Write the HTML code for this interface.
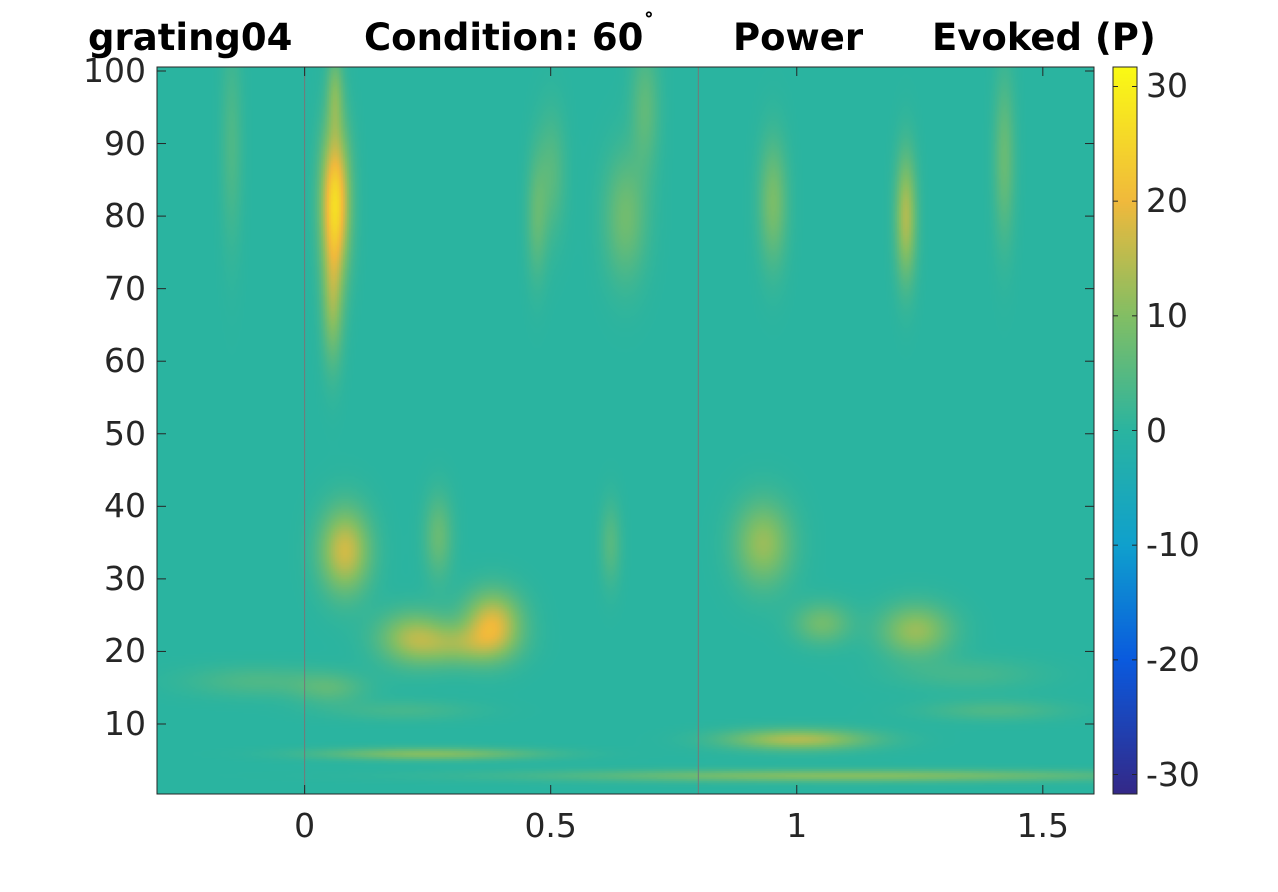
<!DOCTYPE html>
<html><head><meta charset="utf-8">
<style>
body{margin:0;background:#fff;width:1278px;height:892px;overflow:hidden;position:relative;font-family:"DejaVu Sans",sans-serif;}
#title{position:absolute;left:0;top:16px;width:1278px;font-weight:bold;font-size:37px;color:#000;white-space:pre;}
canvas{position:absolute;}
.t{position:absolute;font-size:33px;color:#262626;font-family:"DejaVu Sans",sans-serif;}
</style></head><body>
<div id="title"><span style="position:absolute;left:88px">grating04</span><span style="position:absolute;left:364px">Condition: 60<sup style="font-size:22px;position:relative;top:-6px">˚</sup></span><span style="position:absolute;left:733px">Power</span><span style="position:absolute;left:932px">Evoked (P)</span></div>
<canvas id="hm" width="937" height="727" style="left:157px;top:67px"></canvas>
<canvas id="cb" width="24" height="727" style="left:1113px;top:67px"></canvas>
<svg id="ax" width="1278" height="892" style="position:absolute;left:0;top:0"></svg>
<div id="labels"></div>
<script>
// blob data: time (s), freq (Hz), amplitude, time-width, freq-width
const blobT =  [0.06,0.055,0.08,0.22,0.38,0.32,0.93,1.05,1.24,1.00,0.25,1.10,1.22,0.65,0.95,0.47,0.27,1.42,0.69,0.50,-0.1,0.05,0.62,1.40,0.06,-0.15,0.2,1.35];
const blobF =  [82,  68,   34,  22,  24,  21,  35,  24,  23,  8,   6,   3,   80,  80,  82,  80,  36,  88,  95,  86,  16, 15, 35, 12, 97, 90, 12, 17];
const blobA =  [26,  10,   17,  13,  18,  9,   12,  8,   12,  14,  10,  10,  14,  8,   9,   6,   7,   7,   6,   5,   4,  5,  5,  4,  8, 4, 3, 3];
const blobST = [0.02,0.015,0.035,0.05,0.04,0.06,0.04,0.04,0.05,0.1,0.15,0.4,0.015,0.03,0.02,0.015,0.02,0.015,0.02,0.02,0.1,0.05,0.015,0.1,0.012,0.015,0.1,0.1];
const blobSF = [7,   6,    4,   2.5, 3,   2,   4,   2,   2.5, 1,   0.6, 0.6, 6,   6,   6,   6,   4,   8,   6,   6,   1.5,1.5,4,  1,  4, 10, 1, 1.5];
const xTicks = [0,0.5,1,1.5];
const xTickLabels = ["0","0.5","1","1.5"];
const yTicks = [10,20,30,40,50,60,70,80,90,100];
const cTicks = [30,20,10,0,-10,-20,-30];
const vLines = [0,0.8];

const L=157,T=67,W=937,H=727;
const t0=-0.3,t1=1.604,f0=0.35,f1=100.55,cmax=31.7;
const xs=t=>L+(t-t0)/(t1-t0)*W;
const ys=f=>T+(f1-f)/(f1-f0)*H;
const cy=v=>T+(cmax-v)/(2*cmax)*H;
const stops=[[-31.7,[52,40,135]],[-20,[10,90,222]],[-10,[15,160,205]],[0,[42,180,160]],[10,[130,190,100]],[20,[240,185,60]],[31.7,[250,250,20]]];
function col(v){
 v=Math.max(-31.7,Math.min(31.7,v));
 for(let i=0;i<stops.length-1;i++){const[a,ca]=stops[i],[b,cb]=stops[i+1];
  if(v<=b){const k=(v-a)/(b-a);return ca.map((c,j)=>Math.round(c+(cb[j]-c)*k));}}
 return stops[stops.length-1][1];
}
const hm=document.getElementById('hm').getContext('2d');
const img=hm.createImageData(W,H);
for(let py=0;py<H;py+=2){const f=f1-(py/H)*(f1-f0);
 for(let px=0;px<W;px+=2){const t=t0+(px/W)*(t1-t0);let v=0;
  for(let i=0;i<blobT.length;i++){const dt=(t-blobT[i])/blobST[i],df=(f-blobF[i])/blobSF[i];const e=dt*dt+df*df;if(e<30)v+=blobA[i]*Math.exp(-0.5*e);}
  const c=col(v);
  for(let a=0;a<2;a++)for(let b=0;b<2;b++){if(py+a<H&&px+b<W){const k=((py+a)*W+px+b)*4;img.data[k]=c[0];img.data[k+1]=c[1];img.data[k+2]=c[2];img.data[k+3]=255;}}
 }}
hm.putImageData(img,0,0);
const cbc=document.getElementById('cb').getContext('2d');
for(let y=0;y<H;y++){const c=col(cmax-(y/H)*2*cmax);cbc.fillStyle=`rgb(${c})`;cbc.fillRect(0,y,24,1);}
const svg=document.getElementById('ax');const NS='http://www.w3.org/2000/svg';
function ln(x1,y1,x2,y2,s,nm){const e=document.createElementNS(NS,'line');e.setAttribute('x1',x1);e.setAttribute('y1',y1);e.setAttribute('x2',x2);e.setAttribute('y2',y2);e.setAttribute('stroke',s);e.setAttribute('stroke-width',1);


svg.appendChild(e);}
vLines.forEach(t=>ln(xs(t),T,xs(t),T+H,'#777','event-line'));
const r=document.createElementNS(NS,'rect');r.setAttribute('x',L);r.setAttribute('y',T);r.setAttribute('width',W);r.setAttribute('height',H);r.setAttribute('fill','none');r.setAttribute('stroke','#262626');


svg.appendChild(r);
const cr=document.createElementNS(NS,'rect');cr.setAttribute('x',1113);cr.setAttribute('y',T);cr.setAttribute('width',24);cr.setAttribute('height',H);cr.setAttribute('fill','none');cr.setAttribute('stroke','#262626');


svg.appendChild(cr);
const lab=document.getElementById('labels');
function txt(s,x,y,align,nm){const d=document.createElement('div');d.className='t';d.textContent=s;


d.style.top=(y-20)+'px';
if(align==='c'){d.style.left=(x-60)+'px';d.style.width='120px';d.style.textAlign='center';}
else if(align==='r'){d.style.left=(x-120)+'px';d.style.width='120px';d.style.textAlign='right';}
else d.style.left=x+'px';
lab.appendChild(d);}
xTicks.forEach((t,i)=>{const x=xs(t);ln(x,T+H,x,T+H-9,'#262626','x-tick');ln(x,T,x,T+9,'#262626','x-tick');txt(xTickLabels[i],x,826,'c','x-tick-label');});
yTicks.forEach(f=>{const y=ys(f);ln(L,y,L+9,y,'#262626','y-tick');ln(L+W,y,L+W-9,y,'#262626','y-tick');txt(String(f),146,y,'r','y-tick-label');});
cTicks.forEach(v=>{const y=cy(v);ln(1113,y,1118,y,'#262626','colorbar-tick');ln(1137,y,1132,y,'#262626','colorbar-tick');txt(String(v),1146,y,'l','colorbar-tick-label');});
</script>
</body></html>
